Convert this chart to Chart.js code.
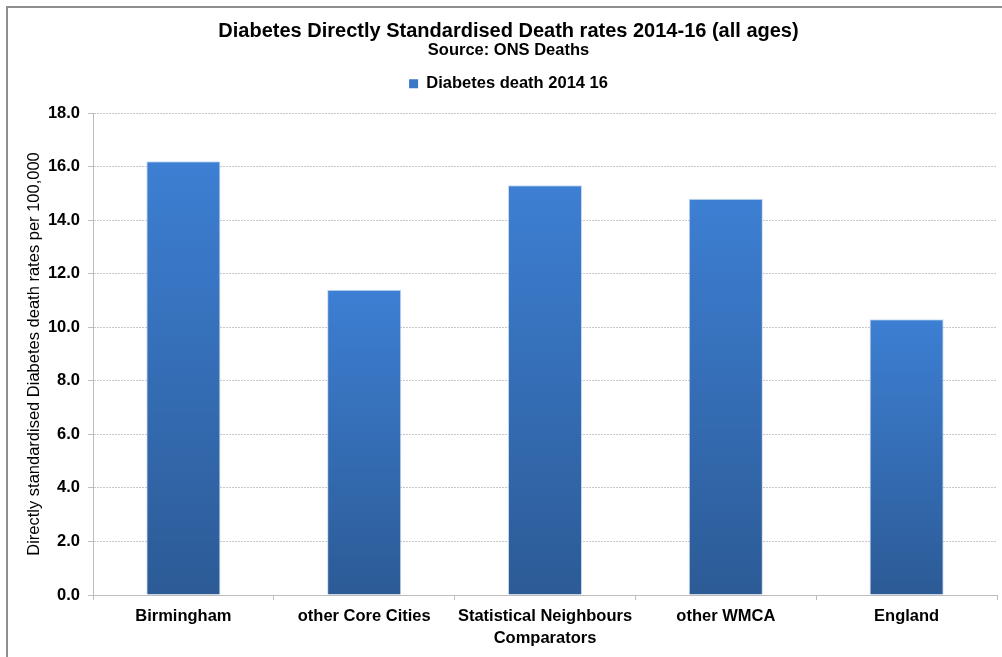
<!DOCTYPE html>
<html>
<head>
<meta charset="utf-8">
<script src="https://cdn.jsdelivr.net/npm/chart.js@4.4.1/dist/chart.umd.min.js"></script>
<style>
  html, body { margin: 0; padding: 0; background: #ffffff; }
  #wrap { position: relative; width: 1002px; height: 657px; }
</style>
</head>
<body>
<div id="wrap"><canvas id="chart" width="1002" height="657"></canvas></div>
<script>
// Areas compared
const categories = [
  'Birmingham',
  'other Core Cities',
  ['Statistical Neighbours', 'Comparators'],
  'other WMCA',
  'England'
];
// Directly standardised diabetes death rate per 100,000, 2014-16
const deathRates = [16.2, 11.4, 15.3, 14.8, 10.3];
const seriesName = 'Diabetes death 2014 16';
const yTicks = [0, 2, 4, 6, 8, 10, 12, 14, 16, 18];

const FONT = '"Liberation Sans", Arial, sans-serif';

// Vertical gradient per bar, light at the top, dark at the base
function barGradient(ctx) {
  const chart = ctx.chart;
  const area = chart.chartArea;
  const y = chart.scales.y;
  if (!area || !y || ctx.type !== 'data') return '#3a78c6';
  const top = y.getPixelForValue(ctx.parsed ? ctx.parsed.y : deathRates[ctx.dataIndex]);
  const base = y.getPixelForValue(0);
  if (!isFinite(top) || !isFinite(base) || top === base) return '#3a78c6';
  const g = chart.ctx.createLinearGradient(0, top, 0, base);
  g.addColorStop(0, '#3d7fd3');
  g.addColorStop(1, '#2c5b96');
  return g;
}

// Grey frame along the top and left edges of the page
const framePlugin = {
  id: 'frame',
  beforeDraw(chart) {
    const c = chart.ctx;
    c.save();
    c.fillStyle = '#ffffff';
    c.fillRect(0, 0, chart.width, chart.height);
    c.strokeStyle = '#8e8e8e';
    c.lineWidth = 2;
    c.beginPath();
    c.moveTo(7, chart.height);
    c.lineTo(7, 7);
    c.lineTo(chart.width, 7);
    c.stroke();
    c.restore();
  }
};

// Extra space between the legend and the plot area
const legendGapPlugin = {
  id: 'legendGap',
  beforeUpdate(chart) {
    const legend = chart.legend;
    if (!legend || legend._gapWrapped) return;
    const fit = legend.fit;
    legend.fit = function () {
      fit.call(this);
      this.height += 11;
    };
    legend._gapWrapped = true;
  }
};

new Chart(document.getElementById('chart'), {
  type: 'bar',
  data: {
    labels: categories,
    datasets: [{
      label: seriesName,
      data: deathRates,
      backgroundColor: barGradient,
      borderColor: 'rgba(170,195,230,0.6)',
      borderWidth: 1,
      borderSkipped: 'bottom',
      barPercentage: 0.41,
      categoryPercentage: 1.0
    }]
  },
  options: {
    responsive: false,
    animation: false,
    devicePixelRatio: 1,
    layout: { padding: { left: 20, right: 5, top: 21, bottom: 0 } },
    plugins: {
      title: {
        display: true,
        text: 'Diabetes Directly Standardised Death rates 2014-16 (all ages)',
        color: '#000000',
        font: { family: FONT, size: 20, weight: 'bold', lineHeight: 1.0 },
        padding: { top: 0, bottom: 0 }
      },
      subtitle: {
        display: true,
        text: 'Source: ONS Deaths',
        color: '#000000',
        font: { family: FONT, size: 16.5, weight: 'bold', lineHeight: 1.0 },
        padding: { top: 1, bottom: 7 }
      },
      legend: {
        display: true,
        position: 'top',
        labels: {
          color: '#000000',
          font: { family: FONT, size: 16.5, weight: 'bold' },
          boxWidth: 9,
          boxHeight: 9,
          padding: 10,
          generateLabels(chart) {
            return [{
              text: seriesName,
              fillStyle: '#3a78c6',
              strokeStyle: '#3a78c6',
              lineWidth: 0,
              datasetIndex: 0,
              hidden: false
            }];
          }
        }
      },
      tooltip: { enabled: false }
    },
    scales: {
      x: {
        offset: true,
        grid: {
          display: true,
          offset: true,
          drawOnChartArea: false,
          drawTicks: true,
          tickLength: 5,
          color: '#bdbdbd'
        },
        border: { display: true, color: '#bdbdbd', width: 1 },
        ticks: {
          color: '#000000',
          font: { family: FONT, size: 16.5, weight: 'bold', lineHeight: 1.3 },
          padding: 6,
          maxRotation: 0,
          autoSkip: false
        },
        afterFit(scale) { scale.height = 62; }
      },
      y: {
        min: 0,
        max: 18,
        afterBuildTicks(scale) { scale.ticks = yTicks.map(v => ({ value: v })); },
        grid: {
          color: '#c8c8c8',
          lineWidth: 1,
          drawTicks: true,
          tickLength: 5,
          tickColor: '#bdbdbd'
        },
        border: { display: true, color: '#bdbdbd', width: 1, dash: [2, 1] },
        ticks: {
          color: '#000000',
          font: { family: FONT, size: 16.5, weight: 'bold' },
          padding: 8,
          callback: v => Number(v).toFixed(1)
        },
        title: {
          display: true,
          text: 'Directly standardised Diabetes death rates per 100,000',
          color: '#000000',
          font: { family: FONT, size: 16.5, weight: 'normal' },
          padding: { top: 5, bottom: 0 }
        },
        afterFit(scale) { scale.width = 73; }
      }
    }
  },
  plugins: [framePlugin, legendGapPlugin]
});
</script>
</body>
</html>
